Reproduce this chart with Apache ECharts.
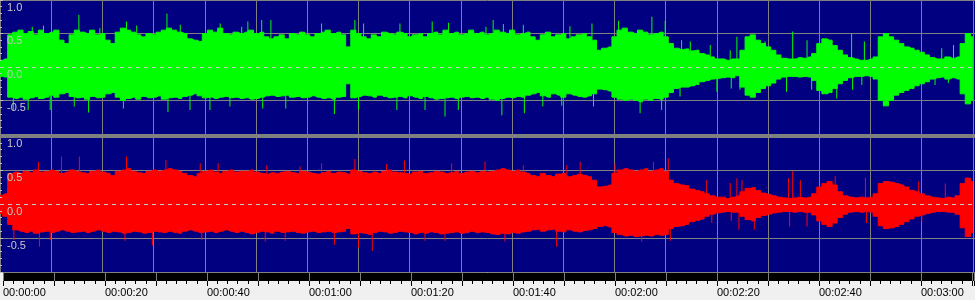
<!DOCTYPE html>
<html>
<head>
<meta charset="utf-8">
<script src="https://cdn.jsdelivr.net/npm/echarts@6/dist/echarts.min.js"></script>
<style>
  html, body { margin: 0; padding: 0; background: #f0f0f0; }
  #chart { width: 975px; height: 300px; }
</style>
</head>
<body>
<div id="chart"></div>
<script>
// envelope per second (index = seconds), left channel (green) and right channel (red)
const gTop = [0.10,0.12,0.48,0.52,0.55,0.50,0.53,0.48,0.55,0.50,
  0.52,0.55,0.40,0.35,0.48,0.55,0.52,0.50,0.55,0.48,
  0.50,0.40,0.35,0.52,0.58,0.55,0.52,0.48,0.45,0.50,
  0.48,0.52,0.55,0.58,0.55,0.52,0.50,0.42,0.40,0.38,
  0.50,0.55,0.52,0.58,0.50,0.48,0.52,0.50,0.52,0.55,
  0.50,0.52,0.45,0.42,0.45,0.48,0.42,0.50,0.48,0.52,
  0.48,0.45,0.50,0.52,0.55,0.50,0.52,0.48,0.30,0.55,
  0.50,0.45,0.42,0.48,0.45,0.52,0.50,0.48,0.52,0.50,
  0.45,0.48,0.50,0.45,0.50,0.52,0.48,0.55,0.50,0.52,
  0.48,0.50,0.55,0.50,0.52,0.48,0.50,0.55,0.52,0.50,
  0.55,0.48,0.50,0.52,0.45,0.40,0.48,0.52,0.45,0.48,
  0.50,0.42,0.45,0.48,0.50,0.45,0.40,0.25,0.28,0.30,
  0.45,0.55,0.58,0.52,0.50,0.55,0.52,0.48,0.50,0.52,
  0.45,0.35,0.28,0.26,0.27,0.24,0.25,0.20,0.18,0.15,
  0.12,0.12,0.10,0.12,0.12,0.25,0.45,0.48,0.40,0.35,
  0.30,0.25,0.18,0.13,0.12,0.12,0.14,0.13,0.15,0.20,
  0.35,0.42,0.40,0.32,0.25,0.18,0.14,0.12,0.10,0.10,
  0.12,0.15,0.45,0.50,0.45,0.40,0.35,0.30,0.28,0.25,
  0.22,0.18,0.14,0.12,0.12,0.15,0.13,0.15,0.35,0.50,
  0.45];
const gBot = [-0.14,-0.15,-0.45,-0.47,-0.45,-0.48,-0.46,-0.44,-0.47,-0.45,
  -0.42,-0.45,-0.40,-0.38,-0.44,-0.46,-0.45,-0.48,-0.44,-0.46,
  -0.45,-0.40,-0.38,-0.45,-0.50,-0.47,-0.45,-0.48,-0.44,-0.46,
  -0.45,-0.43,-0.48,-0.46,-0.45,-0.47,-0.44,-0.42,-0.40,-0.43,
  -0.46,-0.45,-0.47,-0.45,-0.44,-0.46,-0.45,-0.47,-0.46,-0.48,
  -0.47,-0.45,-0.43,-0.42,-0.44,-0.43,-0.42,-0.45,-0.44,-0.46,
  -0.45,-0.43,-0.45,-0.47,-0.46,-0.48,-0.45,-0.44,-0.25,-0.46,
  -0.44,-0.42,-0.43,-0.45,-0.42,-0.44,-0.46,-0.45,-0.44,-0.46,
  -0.43,-0.45,-0.47,-0.44,-0.46,-0.48,-0.47,-0.46,-0.45,-0.47,
  -0.45,-0.44,-0.46,-0.45,-0.47,-0.45,-0.48,-0.50,-0.47,-0.45,
  -0.46,-0.44,-0.45,-0.42,-0.40,-0.38,-0.43,-0.45,-0.40,-0.42,
  -0.45,-0.40,-0.42,-0.44,-0.45,-0.43,-0.40,-0.33,-0.34,-0.36,
  -0.45,-0.48,-0.50,-0.48,-0.50,-0.52,-0.48,-0.50,-0.47,-0.48,
  -0.45,-0.38,-0.32,-0.30,-0.30,-0.28,-0.26,-0.22,-0.20,-0.18,
  -0.17,-0.16,-0.15,-0.16,-0.13,-0.30,-0.42,-0.45,-0.38,-0.32,
  -0.28,-0.24,-0.18,-0.15,-0.14,-0.14,-0.15,-0.14,-0.15,-0.20,
  -0.35,-0.40,-0.38,-0.32,-0.25,-0.20,-0.16,-0.14,-0.14,-0.13,
  -0.14,-0.18,-0.50,-0.58,-0.50,-0.42,-0.38,-0.35,-0.32,-0.28,
  -0.25,-0.22,-0.18,-0.16,-0.15,-0.18,-0.16,-0.18,-0.40,-0.55,
  -0.50];
const rTop = [0.13,0.15,0.45,0.47,0.45,0.48,0.46,0.50,0.47,0.48,
  0.50,0.48,0.45,0.47,0.50,0.48,0.46,0.45,0.48,0.50,
  0.47,0.45,0.42,0.48,0.50,0.52,0.48,0.46,0.45,0.48,
  0.50,0.48,0.50,0.52,0.50,0.48,0.45,0.42,0.40,0.45,
  0.48,0.50,0.47,0.45,0.48,0.50,0.47,0.48,0.48,0.50,
  0.47,0.45,0.44,0.46,0.45,0.47,0.48,0.46,0.45,0.48,
  0.47,0.45,0.44,0.46,0.48,0.45,0.47,0.46,0.44,0.50,
  0.48,0.46,0.45,0.47,0.45,0.48,0.50,0.47,0.46,0.45,
  0.44,0.47,0.48,0.45,0.46,0.48,0.47,0.45,0.46,0.48,
  0.45,0.47,0.48,0.46,0.48,0.47,0.48,0.50,0.52,0.50,
  0.48,0.50,0.47,0.45,0.42,0.40,0.45,0.42,0.40,0.44,
  0.45,0.40,0.42,0.44,0.42,0.40,0.35,0.25,0.26,0.28,
  0.45,0.50,0.52,0.50,0.48,0.50,0.52,0.48,0.50,0.52,
  0.48,0.35,0.30,0.28,0.27,0.22,0.20,0.18,0.15,0.12,
  0.10,0.10,0.08,0.10,0.12,0.18,0.23,0.24,0.20,0.16,
  0.14,0.12,0.10,0.09,0.08,0.09,0.10,0.09,0.10,0.15,
  0.25,0.30,0.33,0.28,0.18,0.12,0.10,0.09,0.10,0.09,
  0.10,0.15,0.30,0.33,0.32,0.30,0.28,0.25,0.20,0.18,
  0.15,0.12,0.10,0.09,0.08,0.10,0.09,0.12,0.30,0.38,
  0.33];
const rBot = [-0.14,-0.18,-0.30,-0.38,-0.40,-0.42,-0.40,-0.43,-0.41,-0.40,
  -0.42,-0.40,-0.38,-0.40,-0.42,-0.41,-0.40,-0.42,-0.40,-0.38,
  -0.40,-0.42,-0.40,-0.41,-0.43,-0.42,-0.40,-0.41,-0.43,-0.42,
  -0.40,-0.41,-0.42,-0.40,-0.42,-0.43,-0.40,-0.38,-0.40,-0.42,
  -0.41,-0.40,-0.42,-0.40,-0.38,-0.40,-0.42,-0.40,-0.42,-0.44,
  -0.42,-0.40,-0.41,-0.43,-0.40,-0.42,-0.41,-0.40,-0.42,-0.43,
  -0.41,-0.40,-0.42,-0.41,-0.40,-0.42,-0.41,-0.40,-0.36,-0.44,
  -0.42,-0.43,-0.45,-0.42,-0.40,-0.41,-0.43,-0.42,-0.40,-0.41,
  -0.42,-0.44,-0.42,-0.43,-0.41,-0.42,-0.44,-0.43,-0.42,-0.41,
  -0.43,-0.42,-0.40,-0.42,-0.41,-0.42,-0.44,-0.45,-0.43,-0.44,
  -0.42,-0.43,-0.41,-0.40,-0.38,-0.37,-0.40,-0.38,-0.37,-0.40,
  -0.41,-0.38,-0.40,-0.41,-0.39,-0.38,-0.36,-0.33,-0.32,-0.34,
  -0.42,-0.45,-0.47,-0.46,-0.48,-0.47,-0.46,-0.47,-0.45,-0.46,
  -0.45,-0.36,-0.33,-0.32,-0.30,-0.26,-0.24,-0.22,-0.18,-0.15,
  -0.13,-0.12,-0.11,-0.12,-0.12,-0.18,-0.23,-0.25,-0.20,-0.17,
  -0.15,-0.13,-0.12,-0.11,-0.11,-0.12,-0.11,-0.12,-0.12,-0.16,
  -0.25,-0.30,-0.33,-0.28,-0.20,-0.15,-0.12,-0.11,-0.12,-0.11,
  -0.12,-0.18,-0.32,-0.36,-0.35,-0.33,-0.30,-0.26,-0.22,-0.18,
  -0.16,-0.14,-0.12,-0.11,-0.11,-0.12,-0.12,-0.15,-0.35,-0.48,
  -0.42];

// isolated peaks [seconds, amplitude]
const gSpikes = [[2.6,-0.64],[5.5,-0.64],[6.3,0.60],[8.5,0.62],[9.8,-0.64],[14.5,-0.59],[15.4,0.78],
  [17.3,-0.68],[19.5,0.58],[24.1,-0.62],[24.7,0.68],[26.7,0.62],[32.6,0.80],[32.8,-0.67],[35.2,0.63],
  [37.1,-0.64],[41,-0.64],[43,0.65],[44.9,-0.59],[47.2,0.60],[48.4,0.68],[51.1,0.70],[51.3,-0.62],
  [52.9,0.70],[55.8,-0.62],[62.8,0.65],[65.3,-0.70],[69.3,0.70],[70,-0.64],[71,0.65],[77.5,-0.64],
  [78.1,0.65],[83,-0.64],[84.4,0.68],[86.9,-0.74],[87.6,0.66],[89.5,-0.64],[94.9,0.60],[96.3,0.70],
  [98,-0.72],[98.3,0.64],[102.2,0.63],[102.4,-0.69],[106,-0.59],[109.7,-0.58],[111.3,0.61],[115.6,0.65],
  [115.9,-0.59],[120.8,0.69],[125,-0.69],[127.3,0.75],[129.2,-0.64],[129.9,0.69],[132.8,-0.44],
  [133.1,0.40],[134.8,0.38],[138.7,0.33],[140,-0.37],[142.6,0.25],[142.8,-0.32],[143.9,0.45],
  [144.5,-0.34],[149.4,0.38],[153.6,-0.37],[154.8,0.53],[157.6,0.40],[158.5,-0.34],[163.4,-0.47],
  [166.3,0.50],[166.5,-0.34],[168.3,-0.27],[168.8,0.38],[176.1,0.35],[182.6,-0.27],[183.9,0.28],
  [185.2,-0.24],[186.2,0.33]];
const rSpikes = [[2.7,-0.53],[7.5,0.62],[7.7,-0.63],[9.8,-0.53],[12,0.70],[15.5,0.70],[24.4,-0.54],
  [24.7,0.70],[29.8,-0.61],[32.4,0.65],[39.1,0.60],[39.4,-0.53],[42.6,0.60],[51.8,-0.55],[52.1,0.57],
  [55.7,-0.54],[58.6,0.55],[62.8,0.60],[65.3,-0.60],[69.3,0.66],[70,-0.64],[72.7,-0.69],[75.5,0.59],
  [79,0.64],[83,-0.54],[86.9,-0.54],[88.2,0.60],[94.7,0.62],[98.6,-0.55],[102.2,0.57],[108.7,-0.63],
  [110.7,0.57],[113.3,0.62],[120.1,0.60],[125.3,-0.55],[127.6,0.62],[130.5,0.67],[130.9,-0.54],
  [138,0.35],[139,-0.28],[142.6,0.31],[142.8,-0.25],[143.9,0.38],[144.3,-0.38],[144.9,0.35],
  [147.3,-0.38],[154,0.38],[154.2,-0.33],[154.8,0.48],[156.3,0.35],[157.6,-0.33],[163.1,0.41],
  [169,0.39],[169.2,-0.28],[179.4,0.33],[180,-0.26],[184.6,0.30]];

const yTicks = [-1, -0.5, 0, 0.5, 1];
const labelStep = 20; // seconds between time labels
const duration = 190.4;

const pairs = arr => arr.map((v, i) => [i, v]);
const pad = n => String(n).padStart(2, '0');
const fmtTime = v => pad(Math.floor(v / 3600)) + ':' + pad(Math.floor(v / 60) % 60) + ':' + pad(Math.round(v % 60));

const gridLine = { color: '#808080', width: 1 };

function xAxisFor(idx, withLabels) {
  return {
    type: 'value', gridIndex: idx, min: 0, max: duration, interval: 10,
    axisLine: { show: false },
    axisTick: withLabels ? { show: true, length: 5, lineStyle: { color: '#000' } } : { show: false },
    minorTick: withLabels ? { show: true, splitNumber: 5, length: 3, lineStyle: { color: '#000' } } : { show: false },
    splitLine: { show: true, lineStyle: gridLine },
    axisLabel: withLabels ? {
      show: true, align: 'left', margin: 6, color: '#000',
      fontFamily: 'Liberation Sans', fontSize: 11,
      showMaxLabel: false,
      formatter: v => (v % labelStep === 0 ? fmtTime(v) : '')
    } : { show: false }
  };
}

const yRange = { type: 'value', min: yTicks[0], max: yTicks[yTicks.length - 1], interval: 0.5 };

// grid lines sit under the waveform
function yLinesFor(idx) {
  return {
    ...yRange, gridIndex: idx,
    axisLine: { show: false }, axisTick: { show: false }, axisLabel: { show: false },
    splitLine: { show: true, lineStyle: { color: ['#808080', '#808080', 'transparent', '#808080', '#808080'], width: 1 } }
  };
}

// scale labels and ruler ticks sit on top of it
function yLabelsFor(idx) {
  return {
    ...yRange, gridIndex: idx, position: 'left', z: 20,
    axisLine: { show: false },
    splitLine: { show: false },
    axisTick: { show: true, inside: true, length: 3, lineStyle: { color: '#c0c0c0' } },
    minorTick: { show: true, splitNumber: 5, length: 2, lineStyle: { color: '#c0c0c0' } },
    axisLabel: {
      inside: true, margin: 7, color: '#c8c8c8', verticalAlign: 'top',
      fontFamily: 'Liberation Sans', fontSize: 11, padding: [2, 0, 0, 0],
      showMinLabel: false,
      formatter: v => v.toFixed(1)
    }
  };
}

function channel(idx, yIdx, top, bot, spikes, color) {
  const area = data => ({
    type: 'line', xAxisIndex: idx, yAxisIndex: yIdx, data: pairs(data),
    symbol: 'none', silent: true, step: 'middle',
    lineStyle: { color: color, width: 1 },
    areaStyle: { color: color, opacity: 1, origin: 'auto' }
  });
  return [
    area(top),
    area(bot),
    {
      type: 'bar', xAxisIndex: idx, yAxisIndex: yIdx, data: spikes,
      barWidth: 1, silent: true, itemStyle: { color: color },
      markLine: {
        silent: true, symbol: 'none', label: { show: false },
        lineStyle: { color: '#c8c8c8', type: [4, 4], width: 1 },
        data: [{ yAxis: 0 }]
      }
    }
  ];
}

const chart = echarts.init(document.getElementById('chart'));
chart.setOption({
  animation: false,
  backgroundColor: '#f0f0f0',
  grid: [
    { left: 0, right: 0, top: 0, height: 134, show: true, backgroundColor: '#000080', borderWidth: 0 },
    { left: 0, right: 0, top: 136, height: 136, show: true, backgroundColor: '#000080', borderWidth: 0 },
    { left: 0, right: 0, top: 273, height: 8, show: true, backgroundColor: '#000000', borderWidth: 0 }
  ],
  xAxis: [xAxisFor(0, false), xAxisFor(1, false), xAxisFor(2, true)],
  yAxis: [
    yLinesFor(0), yLabelsFor(0),
    yLinesFor(1), yLabelsFor(1),
    { type: 'value', gridIndex: 2, show: false, min: 0, max: 1, splitLine: { show: false } }
  ],
  graphic: [{
    type: 'rect', shape: { x: 0, y: 134, width: 975, height: 4 },
    style: { fill: '#808080' }, z: 100, silent: true
  }],
  series: [
    ...channel(0, 0, gTop, gBot, gSpikes, '#00ff00'),
    ...channel(1, 2, rTop, rBot, rSpikes, '#ff0000')
  ]
});
</script>
</body>
</html>
